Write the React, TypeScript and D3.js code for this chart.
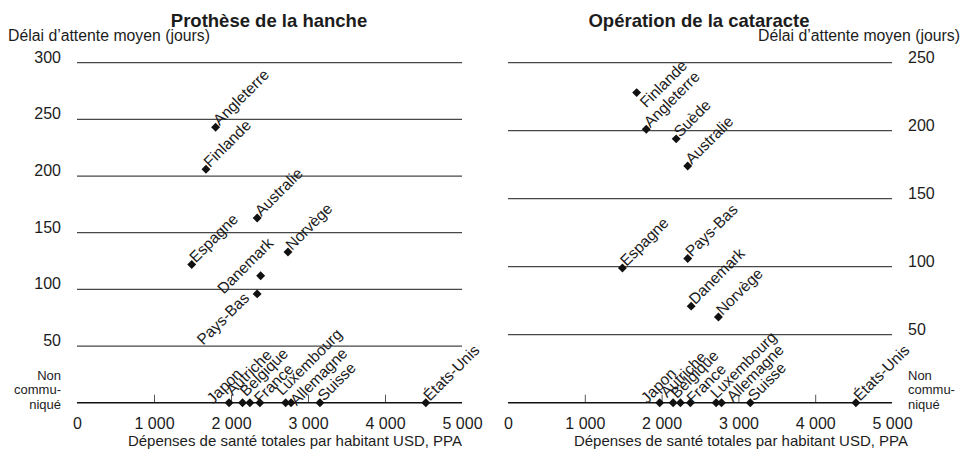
import * as d3 from 'd3';
import React, { useEffect, useRef } from 'react';

// Pays et dépenses de santé par habitant (USD, PPA)
const countries = [
  'Angleterre', 'Finlande', 'Australie', 'Espagne', 'Norvège', 'Danemark', 'Pays-Bas', 'Suède',
  'Japon', 'Autriche', 'Belgique', 'France', 'Luxembourg', 'Allemagne', 'Suisse', 'États-Unis'
];
const spending = [1800, 1675, 2340, 1490, 2740, 2385, 2340, 2190, 1975, 2150, 2245, 2375, 2710, 2780, 3155, 4530];

// délai d'attente moyen (jours); null = non communiqué, undefined = absent du graphique
const hipWait = [243, 206, 163, 122, 133, 112, 96, undefined, null, null, null, null, null, null, null, null];
const cataractWait = [201, 228, 174, 99, 63, 71, 106, 194, null, null, null, null, null, null, null, null];

const hipYTicks = [50, 100, 150, 200, 250, 300];
const cataractYTicks = [50, 100, 150, 200, 250];
const xTicks = [0, 1000, 2000, 3000, 4000, 5000];

// placement manuel de quelques étiquettes (décalage écran depuis le marqueur)
const hipLabelShift: Record<string, [number, number, string?]> = {
  'Japon': [-16, 2],
  'Autriche': [-10, -6.5],
  'Belgique': [-3.5, -5.5],
  'France': [0.5, 1.5],
  'Luxembourg': [-3.5, -6.5],
  'Allemagne': [5.5, 3.5],
  'Danemark': [-37, 19],
  'Pays-Bas': [-7, 5, 'end'],
};
const cataractLabelShift: Record<string, [number, number, string?]> = {
  'Japon': [-12.5, 1.5],
  'Autriche': [-6, -4.5],
  'Belgique': [-3.5, -3.5],
  'France': [2.5, 1.5],
  'Luxembourg': [0.5, -3.5],
  'Allemagne': [11.5, 0],
  'Finlande': [9.5, 16],
};

const FONT = '"Liberation Sans", Arial, Helvetica, sans-serif';
const INK = '#1c1c1c';

const frNumber = d3.formatLocale({ decimal: ',', thousands: '\u00a0', grouping: [3], currency: ['', ''] }).format(',');

interface PanelConfig {
  title: string;
  titleX: number;
  left: number;
  right: number;
  yMax: number;
  yTicks: number[];
  waits: (number | null | undefined)[];
  shifts: Record<string, [number, number, string?]>;
  side: 'left' | 'right';
  axisTitleEnd: number;
}

const App: React.FC = () => {
  const svgRef = useRef<SVGSVGElement>(null);
  const width = 962;
  const height = 451;

  useEffect(() => {
    if (!svgRef.current) return;
    const svg = d3.select(svgRef.current);
    svg.selectAll('*').remove();

    const top = 62.7;
    const bottom = 402.7;

    const drawPanel = (cfg: PanelConfig) => {
      const g = svg.append('g').attr('font-family', FONT).attr('fill', INK);

      const xScale = d3.scaleLinear().domain([0, 5000]).range([cfg.left, cfg.right]);
      const yScale = d3.scaleLinear().domain([0, cfg.yMax]).range([bottom, top]);

      // gridlines
      g.selectAll('line.grid')
        .data(cfg.yTicks)
        .join('line')
        .attr('class', 'grid')
        .attr('x1', cfg.left)
        .attr('x2', cfg.right)
        .attr('y1', d => yScale(d))
        .attr('y2', d => yScale(d))
        .attr('stroke', '#474747')
        .attr('stroke-width', 1.3);

      // y tick labels, baseline on the line
      const isLeft = cfg.side === 'left';
      g.selectAll('text.ytick')
        .data(cfg.yTicks)
        .join('text')
        .attr('class', 'ytick')
        .attr('x', isLeft ? cfg.left - 16 : cfg.right + 16)
        .attr('y', d => yScale(d))
        .attr('text-anchor', isLeft ? 'end' : 'start')
        .attr('font-size', '16px')
        .text(d => frNumber(d));

      // "Non communiqué"
      const nc = g.append('text')
        .attr('text-anchor', isLeft ? 'end' : 'start')
        .attr('font-size', '13px');
      ['Non', 'commu-', 'niqué'].forEach((s, i) => {
        nc.append('tspan')
          .attr('x', isLeft ? cfg.left - 16 : cfg.right + 16)
          .attr('y', 379.5 + i * 14.7)
          .text(s);
      });

      // x axis
      const axis = g.append('g')
        .attr('transform', `translate(0, ${bottom})`)
        .call(d3.axisBottom(xScale)
          .tickValues(xTicks)
          .tickSizeInner(-8)
          .tickSizeOuter(0)
          .tickPadding(15)
          .tickFormat(d => frNumber(d as number)));
      axis.select('.domain').remove();
      axis.selectAll('.tick line')
        .attr('stroke', '#555')
        .attr('stroke-width', 1)
        .attr('opacity', d => (d === 0 || d === 5000 ? 0 : 1));
      axis.selectAll('.tick text')
        .attr('font-family', FONT)
        .attr('font-size', '16px')
        .attr('fill', INK);

      g.append('line')
        .attr('x1', cfg.left)
        .attr('x2', cfg.right)
        .attr('y1', bottom)
        .attr('y2', bottom)
        .attr('stroke', '#111')
        .attr('stroke-width', 1.4);

      // points
      const pts = countries
        .map((c, i) => ({ name: c, x: spending[i], y: cfg.waits[i] }))
        .filter(d => d.y !== undefined);

      const diamond = d3.symbol().type(d3.symbolSquare).size(40);
      g.selectAll('path.pt')
        .data(pts)
        .join('path')
        .attr('class', 'pt')
        .attr('d', diamond)
        .attr('transform', d => `translate(${xScale(d.x)}, ${yScale(d.y ?? 0)}) rotate(45)`)
        .attr('fill', '#111');

      g.selectAll('text.lbl')
        .data(pts)
        .join('text')
        .attr('class', 'lbl')
        .attr('font-size', '15.5px')
        .attr('text-anchor', d => cfg.shifts[d.name]?.[2] ?? 'start')
        .attr('transform', d => {
          const s = cfg.shifts[d.name] ?? [4, -1];
          return `translate(${xScale(d.x) + s[0]}, ${yScale(d.y ?? 0) + s[1]}) rotate(-45)`;
        })
        .text(d => d.name);

      // titles
      g.append('text')
        .attr('x', cfg.titleX)
        .attr('y', 26.5)
        .attr('text-anchor', 'middle')
        .attr('font-size', '18.5px')
        .attr('font-weight', 'bold')
        .text(cfg.title);

      g.append('text')
        .attr('x', isLeft ? 8 : width - 2)
        .attr('y', 40.5)
        .attr('text-anchor', isLeft ? 'start' : 'end')
        .attr('font-size', '15.8px')
        .text('Délai d’attente moyen (jours)');

      g.append('text')
        .attr('x', cfg.axisTitleEnd)
        .attr('y', 446)
        .attr('text-anchor', 'end')
        .attr('font-size', '15px')
        .text('Dépenses de santé totales par habitant USD, PPA');
    };

    drawPanel({
      title: 'Prothèse de la hanche',
      titleX: 269,
      left: 77,
      right: 462,
      yMax: 300,
      yTicks: hipYTicks,
      waits: hipWait,
      shifts: hipLabelShift,
      side: 'left',
      axisTitleEnd: 462,
    });

    drawPanel({
      title: 'Opération de la cataracte',
      titleX: 699,
      left: 508,
      right: 892,
      yMax: 250,
      yTicks: cataractYTicks,
      waits: cataractWait,
      shifts: cataractLabelShift,
      side: 'right',
      axisTitleEnd: 908,
    });
  }, []);

  return (
    <svg
      ref={svgRef}
      width={width}
      height={height}
      style={{ position: 'absolute', left: 0, top: 0, background: '#fff' }}
    />
  );
};

export default App;
